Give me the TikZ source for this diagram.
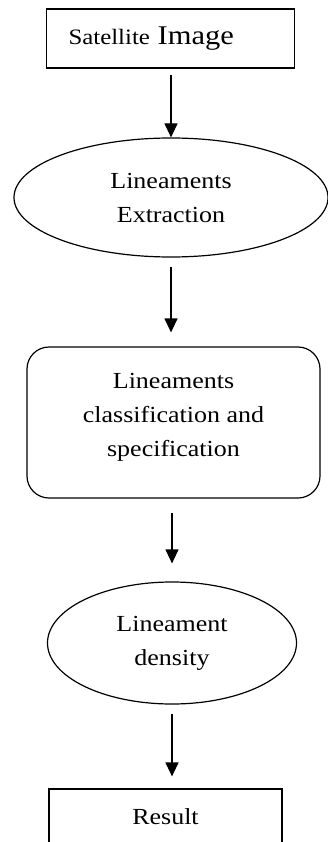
\documentclass[tikz,border=0pt]{standalone}
\usepackage{fontspec}
\setmainfont{Liberation Serif}[FakeStretch=1.13]
\usetikzlibrary{shapes.geometric,arrows.meta}
\tikzset{
  shp/.style={draw=black, line width=1.2pt, inner sep=0pt, font=\fontsize{23}{34}\selectfont, align=center},
  arr/.style={draw=black, line width=1.2pt, -{Triangle[length=14pt,width=13pt]}}
}
\begin{document}
\begin{tikzpicture}[x=1pt,y=-1pt]
\useasboundingbox (0,0) rectangle (328,842);
\clip (0,0) rectangle (328,842);
\node[shp, rectangle, minimum width=248pt, minimum height=59pt, text width=204pt, align=left] (sat) at (170.5,38.5)
  {\fontsize{22}{34}\selectfont Satellite \fontsize{27}{34}\selectfont Image};
\node[shp, ellipse, minimum width=314pt, minimum height=119pt] (ext) at (171,197.5) {Lineaments\\Extraction};
\node[shp, rectangle, rounded corners=22pt, minimum width=293pt, minimum height=151pt] (cls) at (173.5,422.5)
  {\raisebox{7pt}[\height][\depth]{\begin{tabular}{@{}c@{}}Lineaments\\classification and\\specification\end{tabular}}};
\node[shp, ellipse, minimum width=249pt, minimum height=122pt] (dens) at (172,643) {Lineament\\density};
\node[shp, rectangle, minimum width=233pt, minimum height=56pt] (res) at (165.5,817) {Result};
\draw[arr, shorten <=6pt] (sat.south -| ext.north) -- (ext.north);
\draw[arr, shorten <=9pt, shorten >=14pt] (ext.south) -- (ext.south |- cls.north);
\draw[arr, shorten <=14pt, shorten >=18pt] (cls.south -| dens.north) -- (dens.north);
\draw[arr, shorten <=9pt, shorten >=12pt] (dens.south) -- (dens.south |- res.north);
\end{tikzpicture}
\end{document}
